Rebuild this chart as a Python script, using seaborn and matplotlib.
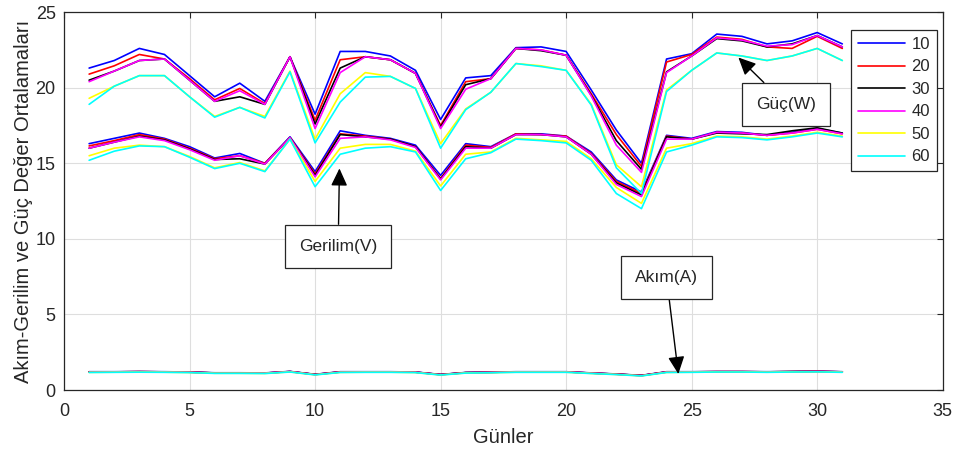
"""
Akım, gerilim ve güç günlük ortalamaları
"""
import pandas as pd
import matplotlib
matplotlib.use("Agg")
import matplotlib.pyplot as plt
import seaborn as sns

# 数据
gunler = list(range(1, 32))
etiketler = ['10', '20', '30', '40', '50', '60']
renkler = ['#0000ff', '#ff0000', '#000000', '#ff00ff', '#ffff00', '#00ffff']

guc_10 = [21.3, 21.8, 22.6, 22.2, 20.8, 19.4, 20.3, 19.1, 22.05, 18.25, 22.4, 22.4, 22.1, 21.15, 17.9, 20.65,
          20.8, 22.65, 22.7, 22.4, 19.85, 17.2, 15.0, 21.9, 22.25, 23.55, 23.4, 22.9, 23.1, 23.65, 22.9]
guc_20 = [20.9, 21.45, 22.2, 21.9, 20.6, 19.2, 19.95, 18.95, 22.05, 17.85, 21.85, 22.05, 21.85, 20.95, 17.5, 20.4,
          20.6, 22.6, 22.5, 22.15, 19.6, 16.9, 14.8, 21.7, 22.2, 23.35, 23.2, 22.7, 22.6, 23.4, 22.6]
guc_30 = [20.5, 21.1, 21.8, 21.9, 20.5, 19.1, 19.4, 18.9, 22.05, 17.6, 21.3, 22.05, 21.85, 20.95, 17.4, 20.2,
          20.6, 22.6, 22.45, 22.15, 19.5, 16.5, 14.6, 21.05, 22.1, 23.25, 23.1, 22.7, 22.9, 23.45, 22.7]
guc_40 = [20.4, 21.1, 21.8, 21.9, 20.5, 19.1, 19.8, 18.9, 22.05, 17.3, 21.0, 22.05, 21.85, 20.95, 17.3, 19.9,
          20.6, 22.6, 22.5, 22.15, 19.45, 16.2, 14.4, 21.0, 22.1, 23.3, 23.15, 22.75, 22.85, 23.45, 22.7]
guc_50 = [19.3, 20.1, 20.8, 20.8, 19.4, 18.1, 18.7, 18.1, 21.1, 16.6, 19.6, 21.0, 20.75, 19.95, 16.3, 18.6,
          19.7, 21.6, 21.45, 21.15, 18.9, 14.9, 13.45, 19.85, 21.15, 22.3, 22.1, 21.8, 22.1, 22.6, 21.8]
guc_60 = [18.9, 20.1, 20.8, 20.8, 19.4, 18.05, 18.7, 18.0, 21.05, 16.35, 19.05, 20.7, 20.75, 19.95, 16.0, 18.55,
          19.7, 21.6, 21.4, 21.15, 18.85, 14.7, 13.0, 19.75, 21.15, 22.3, 22.1, 21.8, 22.1, 22.6, 21.8]

gerilim_10 = [16.3, 16.65, 17.0, 16.65, 16.1, 15.35, 15.65, 15.0, 16.75, 14.45, 17.15, 16.85, 16.65, 16.2, 14.2, 16.3,
              16.1, 16.95, 16.95, 16.8, 15.75, 13.9, 13.1, 16.85, 16.65, 17.1, 17.05, 16.85, 17.05, 17.3, 17.0]
gerilim_20 = [16.15, 16.5, 16.9, 16.6, 16.0, 15.3, 15.5, 15.0, 16.7, 14.3, 16.95, 16.8, 16.6, 16.1, 14.0, 16.2,
              16.05, 16.95, 16.9, 16.8, 15.65, 13.8, 13.0, 16.8, 16.6, 17.05, 17.0, 16.85, 17.0, 17.25, 16.95]
gerilim_30 = [16.0, 16.4, 16.8, 16.55, 15.95, 15.25, 15.3, 14.95, 16.7, 14.2, 16.9, 16.75, 16.6, 16.1, 13.95, 16.1,
              16.0, 16.9, 16.9, 16.75, 15.6, 13.7, 12.9, 16.75, 16.6, 17.0, 16.95, 16.9, 17.15, 17.35, 17.0]
gerilim_40 = [16.0, 16.4, 16.75, 16.5, 15.9, 15.2, 15.5, 14.95, 16.7, 14.1, 16.65, 16.75, 16.55, 16.05, 13.9, 16.0,
              16.0, 16.9, 16.9, 16.75, 15.6, 13.6, 12.8, 16.6, 16.6, 17.05, 17.0, 16.85, 17.0, 17.25, 16.95]
gerilim_50 = [15.5, 16.0, 16.2, 16.1, 15.45, 14.7, 15.05, 14.5, 16.6, 13.8, 16.0, 16.25, 16.25, 15.8, 13.5, 15.6,
              15.75, 16.65, 16.55, 16.45, 15.3, 13.4, 12.35, 16.0, 16.3, 16.8, 16.75, 16.6, 16.8, 17.05, 16.8]
gerilim_60 = [15.2, 15.8, 16.15, 16.1, 15.4, 14.65, 15.0, 14.45, 16.6, 13.45, 15.6, 16.0, 16.1, 15.75, 13.2, 15.3,
              15.7, 16.6, 16.5, 16.35, 15.2, 13.0, 12.0, 15.75, 16.2, 16.75, 16.7, 16.55, 16.75, 17.0, 16.75]

akim_10 = [1.21, 1.21, 1.22, 1.21, 1.19, 1.14, 1.14, 1.13, 1.23, 1.04, 1.21, 1.21, 1.21, 1.19, 1.03, 1.16,
           1.18, 1.21, 1.21, 1.21, 1.13, 1.06, 0.97, 1.21, 1.21, 1.22, 1.22, 1.21, 1.22, 1.24, 1.21]
akim_20 = [1.2, 1.2, 1.22, 1.2, 1.18, 1.13, 1.13, 1.12, 1.22, 1.03, 1.2, 1.2, 1.2, 1.18, 1.02, 1.15,
           1.17, 1.2, 1.2, 1.2, 1.12, 1.05, 0.96, 1.2, 1.2, 1.22, 1.22, 1.2, 1.22, 1.24, 1.2]
akim_30 = [1.2, 1.2, 1.21, 1.2, 1.18, 1.13, 1.13, 1.12, 1.22, 1.03, 1.19, 1.2, 1.2, 1.18, 1.02, 1.15,
           1.17, 1.2, 1.2, 1.2, 1.12, 1.05, 0.96, 1.19, 1.2, 1.21, 1.21, 1.2, 1.22, 1.23, 1.2]
akim_40 = [1.19, 1.2, 1.21, 1.2, 1.18, 1.12, 1.12, 1.12, 1.22, 1.02, 1.19, 1.2, 1.2, 1.18, 1.01, 1.14,
           1.17, 1.2, 1.2, 1.2, 1.12, 1.04, 0.95, 1.19, 1.2, 1.21, 1.21, 1.2, 1.21, 1.23, 1.2]
akim_50 = [1.17, 1.18, 1.19, 1.18, 1.16, 1.11, 1.11, 1.1, 1.2, 1.01, 1.17, 1.18, 1.18, 1.16, 1.0, 1.13,
           1.15, 1.18, 1.18, 1.18, 1.1, 1.03, 0.94, 1.17, 1.18, 1.2, 1.2, 1.18, 1.2, 1.21, 1.18]
akim_60 = [1.16, 1.17, 1.18, 1.17, 1.15, 1.1, 1.1, 1.09, 1.19, 1.0, 1.16, 1.17, 1.17, 1.15, 0.99, 1.12,
           1.14, 1.17, 1.17, 1.17, 1.09, 1.02, 0.93, 1.16, 1.17, 1.19, 1.19, 1.17, 1.19, 1.2, 1.17]

guc = [guc_10, guc_20, guc_30, guc_40, guc_50, guc_60]
gerilim = [gerilim_10, gerilim_20, gerilim_30, gerilim_40, gerilim_50, gerilim_60]
akim = [akim_10, akim_20, akim_30, akim_40, akim_50, akim_60]

# 样式
sns.set_style("white")
plt.rcParams['font.family'] = ['Liberation Sans', 'DejaVu Sans']
koyu = '#262626'

fig, ax = plt.subplots(figsize=(9.6, 4.5), dpi=100)
fig.subplots_adjust(left=0.0667, right=0.982, bottom=0.1333, top=0.973)

for etiket, renk, g, v, a in zip(etiketler, renkler, guc, gerilim, akim):
    sns.lineplot(x=gunler, y=g, color=renk, lw=1.2, ax=ax, label=etiket)
    sns.lineplot(x=gunler, y=v, color=renk, lw=1.2, ax=ax)
    sns.lineplot(x=gunler, y=a, color=renk, lw=1.2, ax=ax)

ax.set_xlim(0, 35)
ax.set_ylim(0, 25)
ax.set_xticks(range(0, 36, 5))
ax.set_yticks(range(0, 26, 5))
ax.grid(True, color='#dedede', lw=0.8)
ax.set_axisbelow(True)
ax.tick_params(direction='in', top=True, right=True, length=4, width=0.8, pad=6,
               colors=koyu, labelsize=13, labelcolor=koyu)
ax.tick_params(axis='x', pad=9)
for s in ax.spines.values():
    s.set_color(koyu)
    s.set_linewidth(0.9)
    s.set_visible(True)

ax.set_xlabel('Günler', fontsize=14.5, color=koyu, labelpad=6)
ax.set_ylabel('Akım-Gerilim ve Güç Değer Ortalamaları', fontsize=14.5, color=koyu, labelpad=2)

leg = ax.legend(loc='upper right', bbox_to_anchor=(0.993, 0.952), borderaxespad=0,
                fancybox=False, framealpha=1, edgecolor=koyu, fontsize=12,
                handlelength=2.8, labelspacing=0.45, handletextpad=0.4,
                borderpad=0.4, alignment='right')
leg.get_frame().set_linewidth(0.9)
for t in leg.get_texts():
    t.set_color(koyu)

# 注释
kutu = dict(boxstyle='square,pad=0.8', fc='white', ec=koyu, lw=0.9)
ok = dict(arrowstyle='-|>,head_length=0.85,head_width=0.4', color='black', lw=1.0,
          shrinkA=0, shrinkB=0)
ax.annotate('Güç(W)', xy=(26.86, 22.0), xytext=(28.76, 18.9), ha='center', va='center',
            fontsize=12.5, color=koyu, bbox=kutu, arrowprops=ok)
ax.annotate('Gerilim(V)', xy=(10.97, 14.66), xytext=(10.92, 9.52), ha='center', va='center',
            fontsize=12.5, color=koyu, bbox=kutu, arrowprops=ok)
ax.annotate('Akım(A)', xy=(24.47, 1.06), xytext=(24.0, 7.43), ha='center', va='center',
            fontsize=12.5, color=koyu, bbox=kutu, arrowprops=ok)

fig.savefig('out.png', dpi=100)
